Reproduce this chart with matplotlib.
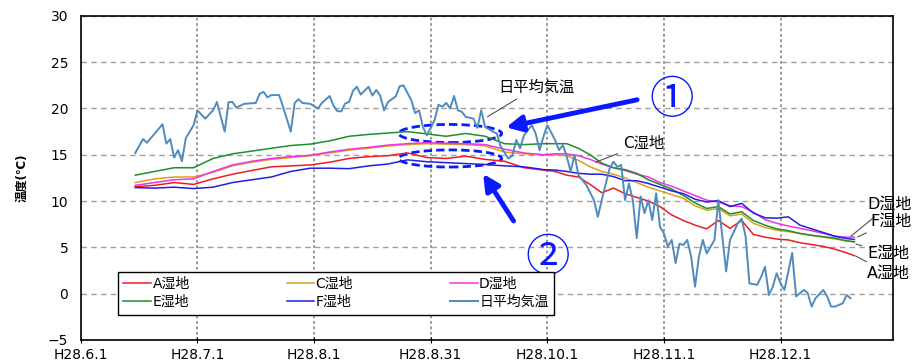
import matplotlib
matplotlib.use('Agg')
import matplotlib.pyplot as plt
from matplotlib.patches import Ellipse

plt.rcParams['font.family'] = ['DejaVu Sans', 'Noto Sans CJK JP']

# days counted from H28.6.1
x_ticks = [0, 30, 60, 90, 120, 150, 180]
x_labels = ['H28.6.1', 'H28.7.1', 'H28.8.1', 'H28.8.31', 'H28.10.1', 'H28.11.1', 'H28.12.1']
y_ticks = [-5, 0, 5, 10, 15, 20, 25, 30]

# daily mean air temperature
air_days = [14, 16, 17, 19, 21, 22, 23, 24, 25, 26, 27, 29, 30, 32, 34, 35, 37, 38, 39, 40,
            42, 45, 46, 47, 48, 49, 51, 52, 54, 55, 56, 57, 59, 61, 62, 64, 65, 66, 67, 68,
            69, 70, 71, 72, 74, 75, 76, 77, 78, 79, 81, 82, 83, 85, 86, 87, 88, 89, 91, 92,
            93, 94, 95, 96, 97, 98, 99, 101, 102, 103, 104, 106, 107, 108, 110, 111, 112, 113, 114, 116,
            117, 118, 119, 120, 122, 123, 124, 125, 126, 127, 128, 130, 132, 133, 134, 136, 137, 138, 139, 140,
            141, 142, 143, 144, 145, 146, 147, 148, 149, 150, 151, 152, 153, 154, 155, 156, 157, 158, 159, 160,
            161, 163, 164, 165, 166, 167, 169, 170, 171, 172, 174, 175, 176, 177, 178, 179, 180, 181, 183, 184,
            186, 187, 188, 189, 191, 192, 193, 194, 196, 197, 198]
air_temp = [15.2, 16.7, 16.3, 17.3, 18.3, 16.2, 16.7, 14.7, 15.5, 14.3, 16.8, 18.2, 19.8, 18.9, 19.8, 20.7, 17.5, 20.7, 20.7, 20.1,
            20.5, 20.6, 21.6, 21.8, 21.2, 21.45, 21.45, 20.2, 17.5, 20.6, 21.0, 20.6, 20.5, 20.0, 20.6, 21.35, 20.3, 19.7, 19.7, 20.55,
            20.7, 21.9, 22.35, 21.5, 22.35, 21.4, 22.0, 21.4, 19.8, 20.7, 21.3, 22.4, 22.5, 20.9, 19.5, 19.8, 18.0, 17.1, 18.75, 20.4,
            20.2, 20.6, 20.0, 21.35, 19.8, 19.65, 19.1, 18.9, 17.9, 19.8, 18.0, 17.5, 17.3, 15.9, 14.6, 14.9, 16.6, 15.7, 17.1, 18.2,
            17.3, 15.5, 16.95, 18.2, 16.6, 15.5, 16.05, 14.8, 13.2, 15.0, 12.8, 11.75, 10.1, 8.3, 10.1, 13.5, 14.25, 13.7, 13.9, 10.1,
            11.9, 10.1, 6.0, 10.5, 8.7, 10.1, 7.95, 10.85, 7.2, 6.5, 5.1, 5.8, 3.3, 5.4, 5.25, 5.8, 4.0, 0.75, 4.0, 5.8,
            4.35, 5.8, 10.1, 6.2, 2.4, 5.8, 7.6, 8.1, 6.2, 1.1, 0.95, 1.8, 2.9, -0.15, 0.75, 2.2, 1.1, 0.4, 4.4, -0.3,
            0.4, 0.05, -1.4, -0.5, 0.4, -0.3, -1.4, -1.4, -1.05, -0.15, -0.5]

# wetland water temperatures
wet_days = [14, 19, 24, 29, 34, 39, 44, 49, 54, 59, 64, 69, 74, 79, 84, 89, 94, 99, 104, 109,
            114, 119, 122, 125, 128, 131, 134, 137, 140, 143, 146, 149, 152, 155, 158, 161, 164, 167, 170, 173,
            176, 179, 182, 185, 188, 191, 194, 197, 199]
wet_a = [11.55, 11.7, 12.0, 11.8, 12.4, 12.9, 13.3, 13.7, 13.8, 13.9, 14.2, 14.6, 14.8, 14.9, 15.2, 14.7, 14.6, 14.85, 14.5, 14.3,
         13.6, 13.35, 13.2, 12.8, 12.6, 11.8, 10.9, 11.4, 10.8, 10.4, 10.0, 9.4, 8.5, 7.9, 7.4, 7.0, 7.9, 7.05, 7.9, 6.4,
         6.1, 5.9, 5.8, 5.5, 5.3, 5.1, 4.8, 4.4, 4.1]
wet_c = [12.0, 12.4, 12.6, 12.6, 13.1, 13.8, 14.2, 14.5, 14.7, 14.9, 15.2, 15.5, 15.7, 15.95, 16.1, 16.2, 16.15, 16.1, 15.95, 15.3,
         15.1, 15.0, 15.0, 14.9, 14.4, 13.7, 13.2, 12.9, 12.5, 12.0, 11.5, 11.1, 10.7, 10.3, 9.5, 9.0, 9.2, 8.4, 8.6, 7.6,
         7.15, 6.85, 6.7, 6.5, 6.3, 6.1, 5.9, 5.7, 5.6]
wet_d = [11.7, 12.0, 12.3, 12.4, 13.2, 13.9, 14.3, 14.6, 14.8, 14.95, 15.3, 15.6, 15.8, 16.05, 16.2, 16.3, 16.25, 16.2, 16.1, 15.6,
         15.2, 15.0, 15.1, 15.1, 14.9, 14.5, 14.0, 13.6, 13.3, 12.9, 12.6, 12.0, 11.6, 11.1, 10.6, 10.1, 9.9, 9.5, 9.4, 8.8,
         8.0, 7.6, 7.3, 7.05, 6.8, 6.5, 6.2, 6.1, 6.1]
wet_e = [12.8, 13.2, 13.6, 13.6, 14.6, 15.1, 15.4, 15.7, 16.0, 16.15, 16.5, 17.0, 17.2, 17.35, 17.5, 17.25, 17.0, 17.3, 17.0, 16.2,
         16.1, 16.2, 16.2, 16.2, 15.7, 15.0, 14.1, 13.6, 13.4, 13.0, 12.3, 11.8, 11.3, 10.6, 9.8, 9.2, 9.4, 8.6, 8.85, 7.9,
         7.4, 7.0, 6.8, 6.5, 6.3, 6.15, 6.0, 5.7, 5.6]
wet_f = [11.45, 11.4, 11.5, 11.35, 11.5, 12.0, 12.3, 12.6, 13.2, 13.55, 13.55, 13.5, 13.8, 14.0, 14.45, 14.25, 14.15, 14.05, 13.95, 13.8,
         13.7, 13.4, 13.35, 13.2, 13.0, 12.9, 12.9, 12.65, 12.2, 12.2, 11.9, 11.5, 11.1, 10.8, 10.2, 9.9, 10.05, 9.4, 9.75, 8.7,
         8.2, 8.15, 8.3, 7.4, 7.0, 6.6, 6.2, 5.95, 5.85]

fig = plt.figure(figsize=(9.19, 3.62), dpi=100)
ax = fig.add_axes([0.088, 0.061, 0.884, 0.895])

la, = ax.plot(wet_days, wet_a, color='#ee1c25', lw=1.1, label='A湿地')
lc, = ax.plot(wet_days, wet_c, color='#d9a21b', lw=1.1, label='C湿地')
ld, = ax.plot(wet_days, wet_d, color='#f032e6', lw=1.1, label='D湿地')
le, = ax.plot(wet_days, wet_e, color='#1f8f2a', lw=1.1, label='E湿地')
lf, = ax.plot(wet_days, wet_f, color='#2020e0', lw=1.1, label='F湿地')
lair, = ax.plot(air_days, air_temp, color='#4f8bbd', lw=1.4, label='日平均気温')

ax.set_xlim(0, 209)
ax.set_ylim(-5, 30)
ax.set_xticks(x_ticks)
ax.set_xticklabels(x_labels, fontsize=10)
ax.set_yticks(y_ticks)
ax.tick_params(axis='y', labelsize=10, length=0, pad=9)
ax.tick_params(axis='x', direction='inout', length=5, pad=3)
ax.set_ylabel('温度(℃)', fontsize=8.5, fontweight='bold', labelpad=14)

ax.yaxis.grid(True, color='#a0a0a0', ls=(0, (4, 3)), lw=1.0)
ax.xaxis.grid(True, color='#909090', ls=(0, (1.5, 1.5)), lw=1.3)
ax.set_axisbelow(True)
for sp in ax.spines.values():
    sp.set_color('black')
    sp.set_linewidth(1.2)

# legend filled row by row: A C D / E F air
handles = [la, le, lc, lf, ld, lair]
leg = ax.legend(handles, [h.get_label() for h in handles], ncol=3, loc='lower left',
                bbox_to_anchor=(0.037, 0.056, 0.554, 0.129), mode='expand',
                fontsize=10, handlelength=2.0, handletextpad=0.1,
                labelspacing=0.3, borderpad=0.4, fancybox=False, framealpha=1)
leg.get_frame().set_edgecolor('black')
leg.get_frame().set_linewidth(1.0)

# series name callouts
lead = dict(arrowstyle='-', color='#505050', lw=0.8)
ax.annotate('日平均気温', xy=(104, 18.95), xytext=(107.3, 22.3), fontsize=11,
            va='center', ha='left', arrowprops=lead)
ax.annotate('C湿地', xy=(131.8, 14.1), xytext=(139.5, 16.2), fontsize=11,
            va='center', ha='left', arrowprops=lead)
ax.annotate('D湿地', xy=(197.5, 6.0), xytext=(202.3, 9.6), fontsize=11.5,
            va='center', ha='left', arrowprops=lead, annotation_clip=False)
ax.annotate('F湿地', xy=(199.2, 6.0), xytext=(203.0, 7.8), fontsize=11.5,
            va='center', ha='left', arrowprops=lead, annotation_clip=False)
ax.annotate('E湿地', xy=(198.7, 5.45), xytext=(202.3, 4.3), fontsize=11.5,
            va='center', ha='left', arrowprops=lead, annotation_clip=False)
ax.annotate('A湿地', xy=(198.7, 4.2), xytext=(202.3, 2.2), fontsize=11.5,
            va='center', ha='left', arrowprops=lead, annotation_clip=False)

# highlighted periods
mark = '#0a1aff'
ax.add_patch(Ellipse((95, 17.3), 26.5, 1.95, fill=False, ec=mark, lw=2, ls=(0, (3, 1.5))))
ax.add_patch(Ellipse((95, 14.6), 26.5, 1.85, fill=False, ec=mark, lw=2, ls=(0, (3, 1.5))))
arrow = dict(arrowstyle='-|>', color=mark, lw=3.5, mutation_scale=24)
ax.annotate('', xy=(108.7, 17.9), xytext=(143.8, 21.0), arrowprops=arrow)
ax.annotate('', xy=(103.1, 13.2), xytext=(111.7, 7.6), arrowprops=arrow)
ax.text(152, 20.9, '①', fontsize=32, color=mark, family=['Noto Sans CJK JP'],
        ha='center', va='center')
ax.text(120.2, 3.85, '②', fontsize=32, color=mark, family=['Noto Sans CJK JP'],
        ha='center', va='center')

fig.savefig('out.png', dpi=100)
